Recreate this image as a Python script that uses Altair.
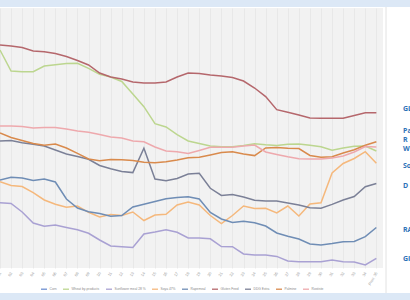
import altair as alt
import pandas as pd

# ---------------- data ----------------
periods = list(range(35))
period_labels = ["01", "02", "03", "04", "05", "06", "07", "08", "09", "10",
                 "11", "12", "13", "14", "15", "16", "17", "18", "19", "20",
                 "21", "22", "23", "24", "25", "26", "27", "28", "29", "30",
                 "31", "32", "33", "34", "Prev. 35"]

series_names = ["Corn", "Wheat by-products", "Sunflower meal 28 %", "Soya 47%",
                "Rapemeal", "Gluten Feed", "DDG Extra", "Palmine", "Rostiste"]
series_colors = ["#6e8fd0", "#bcd68f", "#a9a1d3", "#f5b87c",
                 "#6f8db5", "#b5676c", "#7b8097", "#d98a4c", "#eea9ad"]

wheat = [218, 197, 196.3, 196.3, 202, 203.3, 204.4, 204.7, 199.6, 193.8,
         191, 186.5, 174, 161.3, 144.4, 141, 133.3, 127, 124.5, 122,
         121.3, 121.3, 122.5, 124.2, 123.2, 122.5, 123.8, 124, 122.8, 121.2,
         117.8, 120, 121.8, 122, 117]
sunflower = [65.3, 64.5, 56, 45, 41.7, 43, 40.5, 38.2, 34.7, 28,
             22, 21.3, 20.5, 34, 36, 38.3, 35.7, 30, 30, 29.2,
             21.5, 21.3, 14, 13, 13, 11.6, 7, 6.3, 6.3, 6.3,
             8, 6.3, 6, 3, 9.7]
soya = [86.3, 82.5, 81.4, 75.3, 68, 63.7, 60.8, 62, 55.7, 51,
        53.5, 52.5, 56, 47.5, 53, 53.7, 63, 66, 63, 52.5,
        44.5, 52.5, 62, 59.5, 59.7, 55, 62, 52, 64, 65.3,
        95, 104.5, 109.5, 116.3, 104.7]
rapemeal = [88, 90.8, 90, 87.5, 89, 86, 69, 60, 56.2, 54.4,
            51.8, 52.5, 61, 63.8, 66.4, 69.2, 70.5, 71.2, 69, 55.5,
            49, 45.5, 46.7, 45.3, 42, 35, 31.7, 29, 24, 23,
            24.5, 26.3, 26.5, 31.3, 40.5]
gluten = [223, 222, 220.5, 217, 216.3, 214.5, 211.5, 207.5, 203, 195,
          191, 189, 186, 185, 185, 186, 191, 195, 194.5, 193,
          192, 190.5, 187, 180, 171.4, 158.3, 155.7, 153, 150, 149.7,
          149.7, 149.7, 152.5, 155.3, 155.3]
ddg = [127, 127.5, 125.3, 123.7, 122, 118, 114, 111.5, 108.7, 102.5,
       99.2, 96.5, 95.4, 119.7, 89, 87.2, 89.5, 94, 94.7, 79.7,
       72.5, 73.5, 71, 67.7, 67, 67, 65, 63, 60.2, 59.7,
       63.6, 68, 71.5, 81.3, 84.5]
palmine = [135, 130.5, 127.5, 124.5, 122.7, 124, 120, 114.7, 109, 107.3,
           108.5, 108.2, 107.5, 105.8, 105.3, 106.2, 108, 110.3, 110.7, 113,
           115.4, 116.3, 114, 112.4, 120, 120.4, 119.7, 119.5, 112.5, 110.7,
           111.3, 115, 118.3, 122.7, 126.3]
rostiste = [142, 142, 141.5, 140, 140.5, 140.4, 139, 137, 135.8, 133.5,
            131, 130, 127, 126.3, 121, 117, 116.3, 114.5, 117.5, 120.7,
            120.7, 120.7, 122, 123, 116, 113.5, 111.2, 109.3, 109, 109,
            110, 112, 116, 121.5, 121]

end_labels = ["GL", "Pa", "R", "W", "So", "D", "RA", "GI"]
end_label_values = [159, 137, 128, 119, 102, 82, 38, 9]

# ---------------- table ----------------
series_data = {
    "Wheat by-products": wheat,
    "Sunflower meal 28 %": sunflower,
    "Soya 47%": soya,
    "Rapemeal": rapemeal,
    "DDG Extra": ddg,
    "Palmine": palmine,
    "Rostiste": rostiste,
    "Gluten Feed": gluten,
}
rows = []
for name, vals in series_data.items():
    for p, v in zip(periods, vals):
        rows.append({"period": p, "value": v, "series": name})
df = pd.DataFrame(rows)
labels_df = pd.DataFrame({"label": end_labels, "value": end_label_values})

label_expr = "[" + ",".join("'" + s + "'" for s in period_labels) + "][datum.value]"

x_enc = alt.X("period:Q",
              scale=alt.Scale(domain=[0, 34.6], nice=False, zero=False),
              axis=alt.Axis(values=periods, labelExpr=label_expr, title=None,
                            domain=False, ticks=False, labelAngle=300,
                            labelFontSize=4, labelColor="#9a9a9a",
                            labelPadding=4, grid=True, gridColor="#e4e4e4",
                            gridWidth=0.8, labelOverlap=False))
y_scale = alt.Scale(domain=[0, 260], nice=False, zero=False)

lines = alt.Chart(df).mark_line(strokeWidth=1.5).encode(
    x=x_enc,
    y=alt.Y("value:Q", scale=y_scale, axis=None),
    color=alt.Color("series:N",
                    scale=alt.Scale(domain=series_names, range=series_colors),
                    sort=series_names,
                    legend=alt.Legend(orient="none", legendX=40, legendY=277,
                                      direction="horizontal", columns=9,
                                      title=None, symbolType="stroke",
                                      symbolSize=36, symbolStrokeWidth=1.3,
                                      labelFontSize=3.3, labelColor="#8a8a8a",
                                      columnPadding=3, labelOffset=1.5)),
)

end_text = alt.Chart(labels_df).mark_text(
    align="left", baseline="middle", fontSize=7, fontWeight="bold",
    font="Open Sans", color="#2e72b8"
).encode(
    x=alt.value(403),
    y=alt.Y("value:Q", scale=y_scale),
    text="label:N",
)

one = alt.Data(values=[{"k": 1}])
top_band = alt.Chart(one).mark_rect(color="#dce8f6").encode(
    x=alt.value(0), x2=alt.value(410), y=alt.value(-8), y2=alt.value(-1))
bottom_band = alt.Chart(one).mark_rect(color="#dce8f6").encode(
    x=alt.value(0), x2=alt.value(410), y=alt.value(285), y2=alt.value(292))
border = alt.Chart(one).mark_rule(color="#e2e2e2", strokeWidth=1).encode(
    x=alt.value(386), y=alt.value(-1), y2=alt.value(285))

chart = alt.layer(lines, end_text, top_band, bottom_band, border).properties(
    width=383, height=260,
    autosize=alt.AutoSizeParams(type="none"),
    padding={"left": 0, "top": 8, "right": 27, "bottom": 32},
    background="#ffffff",
).configure_view(fill="#f2f2f2", strokeWidth=0)

chart.save("out.html", embed_options={"renderer": "svg", "actions": False})
